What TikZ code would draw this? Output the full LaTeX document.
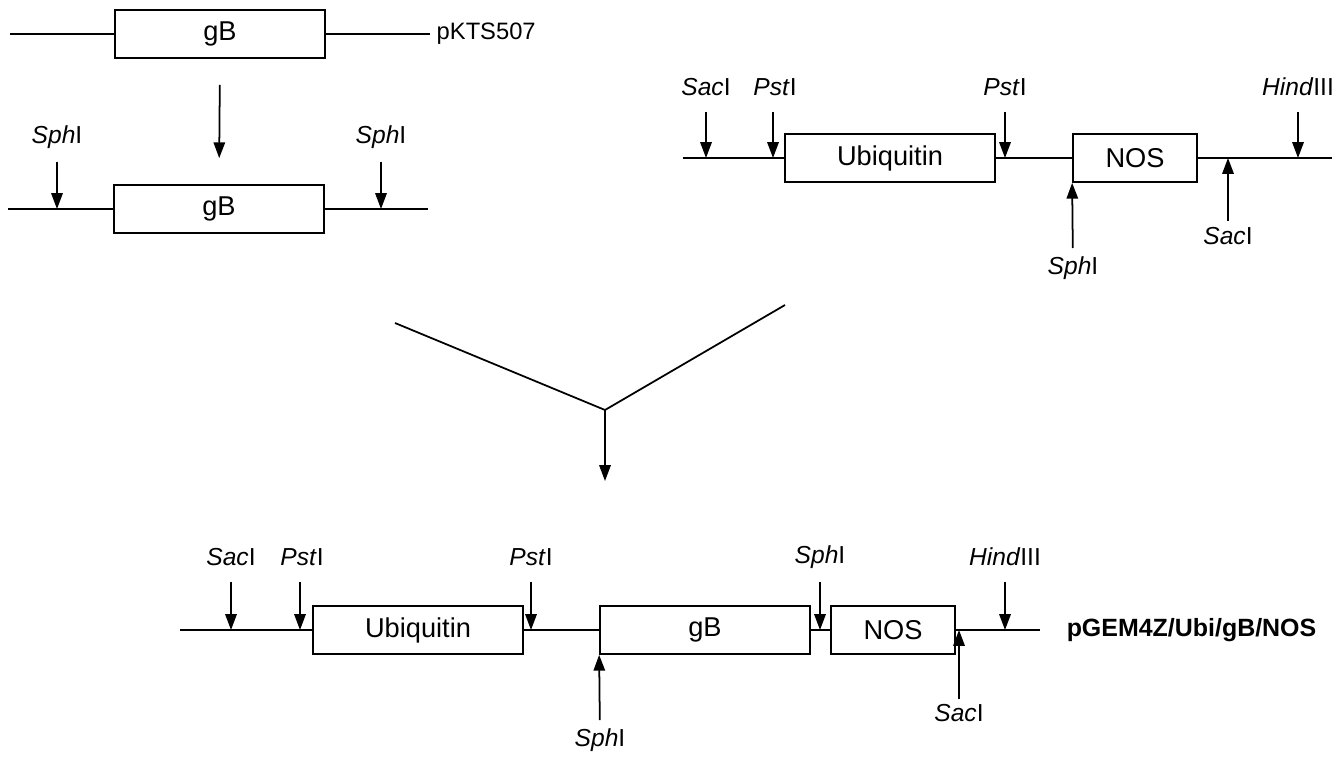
\documentclass[tikz,border=0pt]{standalone}
\usepackage{fontspec}
\setmainfont{Liberation Sans}
\usetikzlibrary{arrows.meta}

\newcommand{\enz}[2]{\textit{#1}#2}

\begin{document}
\begin{tikzpicture}[x=0.02cm, y=-0.02cm, line width=1pt,
	every node/.style={font=\fontsize{14}{16}\selectfont},
	gene/.style={draw, rectangle, minimum height=0.96cm, inner sep=0pt, font=\fontsize{15.5}{17}\selectfont},
	cutdown/.style={-{Triangle[length=9pt,width=6.5pt]}, shorten <=0.5cm},
	cutup/.style={-{Triangle[length=9pt,width=6.5pt]}, shorten <=0.4cm}]
	\useasboundingbox (0,0) rectangle (1341,759);
	% gB in pKTS507
	\begin{scope}
		\node[gene, minimum width=4.2cm] (gbA) at (220,34) {gB};
		\draw (10,34) -- (gbA.west);
		\draw (gbA.east) -- (430,34) node[right, font=\fontsize{13.5}{15}\selectfont] (pkts) {pKTS507};
		\node[gene, minimum width=4.2cm] (gbB) at (219,209) {gB};
		\draw[-{Triangle[length=9pt,width=6.5pt]}, shorten <=0.52cm, shorten >=0.52cm] (gbA.south) -- (gbB.north);
		\draw (8,209) -- (gbB.west) (gbB.east) -- (428,209);
		\node (sphA) at (57,137) {\enz{Sph}{I}};
		\node (sphB) at (381,137) {\enz{Sph}{I}};
		\draw[cutdown] (sphA.center) -- (sphA |- gbB.west);
		\draw[cutdown] (sphB.center) -- (sphB |- gbB.west);
	\end{scope}
	% Ubiquitin / NOS cassette
	\begin{scope}
		\node[gene, minimum width=4.2cm] (ubiA) at (890,158) {Ubiquitin};
		\node[gene, minimum width=2.48cm] (nosA) at (1135,158) {NOS};
		\draw (683,158) -- (ubiA.west) (ubiA.east) -- (nosA.west) (nosA.east) -- (1332,158);
		\node (sacA) at (706,87) {\enz{Sac}{I}};
		\node (pstA) at (775,87) {\enz{Pst}{I}};
		\node (pstB) at (1005,87) {\enz{Pst}{I}};
		\node (hinA) at (1298,87) {\enz{Hind}{III}};
		\node (sphC) at (1073,268) {\enz{Sph}{I}};
		\node (sacB) at (1228,236) {\enz{Sac}{I}};
		\draw[cutdown] (sacA.center) -- (sacA |- ubiA.west);
		\draw[cutdown] ([xshift=-0.04cm]pstA.center) -- ([xshift=-0.04cm]pstA |- ubiA.west);
		\draw[cutdown] (pstB.center) -- (pstB |- ubiA.west);
		\draw[cutdown] (hinA.center) -- (hinA |- ubiA.west);
		\draw[cutup] (sphC.center) -- (nosA.south west);
		\draw[cutup, shorten <=0.3cm] (sacB.center) -- (sacB |- nosA.east);
	\end{scope}
	% ligation
	\coordinate (join) at (605,410);
	\coordinate (tailA) at (395,323);
	\coordinate (tailB) at (785,305);
	\coordinate (tip) at (605,481);
	\draw (tailA) -- (join) -- (tailB);
	\draw[-{Triangle[length=9pt,width=6.5pt]}] (join) -- (tip);
	% pGEM4Z/Ubi/gB/NOS
	\begin{scope}
		\node[gene, minimum width=4.2cm] (ubiB) at (418,630) {Ubiquitin};
		\node[gene, minimum width=4.2cm] (gbC) at (705,630) {gB};
		\node[gene, minimum width=2.48cm] (nosB) at (893,630) {NOS};
		\draw (180,630) -- (ubiB.west) (ubiB.east) -- (gbC.west) (gbC.east) -- (nosB.west) (nosB.east) -- (1040,630);
		\node[right, font=\fontsize{14.2}{16}\selectfont\bfseries] (pgem) at (1060,630) {pGEM4Z/Ubi/gB/NOS};
		\node (sacC) at (231,557) {\enz{Sac}{I}};
		\node (pstC) at (302,557) {\enz{Pst}{I}};
		\node (pstD) at (531,557) {\enz{Pst}{I}};
		\node (sphD) at (820,557) {\enz{Sph}{I}};
		\node (hinB) at (1005,557) {\enz{Hind}{III}};
		\node (sphE) at (600,740) {\enz{Sph}{I}};
		\node (sacD) at (959,713) {\enz{Sac}{I}};
		\draw[cutdown] (sacC.center) -- (sacC |- ubiB.west);
		\draw[cutdown] ([xshift=-0.04cm]pstC.center) -- ([xshift=-0.04cm]pstC |- ubiB.west);
		\draw[cutdown] (pstD.center) -- (pstD |- ubiB.west);
		\draw[cutdown] (sphD.center) -- (sphD |- ubiB.west);
		\draw[cutdown] (hinB.center) -- (hinB |- ubiB.west);
		\draw[cutup] (sphE.center) -- (gbC.south west);
		\draw[cutup, shorten <=0.28cm] (sacD.center) -- (sacD |- nosB.east);
	\end{scope}
\end{tikzpicture}
\end{document}
